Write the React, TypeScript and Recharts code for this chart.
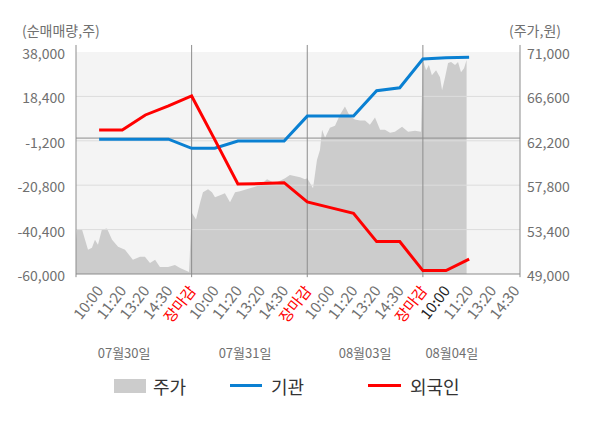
import React from "react";
import {
  ComposedChart,
  Area,
  Line,
  XAxis,
  YAxis,
  CartesianGrid,
  ReferenceLine,
} from "recharts";

const FONT = '"Noto Sans CJK KR", "Noto Sans", sans-serif';

// x축 눈금 라벨 (눈금 1칸 = 1)
const timeTicks = [
  "10:00", "11:20", "13:20", "14:30", "장마감",
  "10:00", "11:20", "13:20", "14:30", "장마감",
  "10:00", "11:20", "13:20", "14:30", "장마감",
  "10:00", "11:20", "13:20", "14:30",
];
const dates = ["07월30일", "07월31일", "08월03일", "08월04일"];

// 순매매량 (눈금 1 ~ 17)
const institution = [
  -500, -500, -500, -500, -4500, -4500, -1300, -1300, -1300,
  9700, 9700, 9700, 20900, 22200, 34900, 35500, 35700,
];
const foreign = [
  3600, 3600, 10200, 14200, 18600, -700, -20300, -20100, -19700,
  -28200, -30700, -33200, -45700, -45700, -58500, -58500, -53400,
];

// 주가 (시점, 가격)
const priceAt = [
  0, 0.04, 0.26, 0.52, 0.69, 0.82, 0.95, 1.12, 1.34, 1.56, 1.82, 2.12, 2.46,
  2.77, 2.98, 3.2, 3.42, 3.63, 3.98, 4.28, 4.5, 4.89,
  5, 5.19, 5.36, 5.49, 5.71, 5.88, 6.01, 6.23, 6.44, 6.66, 6.88, 7.09, 7.52,
  7.96, 8.26, 8.61, 9.04, 9.25, 9.69, 9.9,
  10, 10.25, 10.42, 10.55, 10.64, 10.77, 10.98, 11.2, 11.42, 11.63, 11.85,
  12.06, 12.28, 12.5, 12.71, 12.93, 13.15, 13.36, 13.58, 13.79, 14.1, 14.36,
  14.66, 14.92,
  15, 15.14, 15.26, 15.39, 15.57, 15.74, 15.83, 15.96, 16.09, 16.22, 16.39,
  16.52, 16.65, 16.78, 16.89,
];
const price = [
  52400, 53400, 53400, 51400, 51600, 52400, 51900, 53400, 53500, 52400, 51700,
  51400, 50400, 50700, 50700, 50100, 50400, 49700, 49700, 49900, 49600, 49200,
  55100, 54400, 56000, 57100, 57400, 57100, 56600, 56800, 57000, 56100, 57100,
  57200, 57500, 57800, 58400, 58000, 58500, 58800, 58600, 58400,
  58500, 57500, 60300, 61300, 63300, 62500, 63500, 63700, 64800, 65600, 64600,
  64300, 64200, 64200, 63800, 64500, 63300, 63300, 63000, 63100, 63600, 63100,
  63200, 63100,
  70200, 69200, 69700, 68700, 69200, 68500, 67200, 68500, 69900, 70000, 69700,
  70000, 69000, 69400, 70200,
];

const leftTicks = [-60000, -40400, -20800, -1200, 18400, 38000];
const rightTicks = [49000, 53400, 57800, 62200, 66600, 71000];

const dayBreaks = [0, 5, 10, 15, 19.2];
const DATE_AT = [2.08, 7.31, 12.5, 16.25];
const X_MAX = 19.2;

const flowData = institution.map((v, i) => ({ x: i + 1, inst: v, frgn: foreign[i] }));
const priceData = priceAt.map((x, i) => ({ x, price: price[i] }));

const fmt = (v: number) => v.toLocaleString("en-US");

const TimeTick = (props: any) => {
  const { x, y, payload } = props;
  const label = timeTicks[payload.value - 1];
  let color = "#707070";
  if (label === "장마감") color = "#ff0000";
  else if (payload.value === 16) color = "#222222";
  return (
    <g transform={`translate(${x + 5},${y + 17})`}>
      <text
        textAnchor="end"
        transform="rotate(-52)"
        fill={color}
        fontSize={15}
        fontFamily={FONT}
      >
        {label}
      </text>
    </g>
  );
};

const DateTick = (props: any) => {
  const { x, y, payload } = props;
  const i = DATE_AT.indexOf(payload.value);
  return (
    <text x={x} y={y + 18} textAnchor="middle" fill="#707070" fontSize={13} fontFamily={FONT}>
      {dates[i]}
    </text>
  );
};

const YTick = (props: any) => {
  const { x, y, payload, textAnchor } = props;
  return (
    <text x={x} y={y + 7} textAnchor={textAnchor} fill="#707070" fontSize={14} fontFamily={FONT}>
      {fmt(payload.value)}
    </text>
  );
};

export default function App() {
  return (
    <div style={{ position: "absolute", left: 0, top: 0, width: 600, height: 428, background: "#fff", fontFamily: FONT }}>
      <div style={{ position: "absolute", left: 22, top: 22, fontSize: 14, lineHeight: "16px", color: "#707070" }}>
        (순매매량,주)
      </div>
      <div style={{ position: "absolute", left: 509, top: 22, fontSize: 14, lineHeight: "16px", color: "#707070" }}>
        (주가,원)
      </div>
      <ComposedChart width={600} height={428} margin={{ top: 52, right: 0, bottom: 58, left: 0 }}>
        <CartesianGrid horizontal={false} vertical={false} fill="#f4f4f4" yAxisId="left" />
        <XAxis
          type="number"
          dataKey="x"
          domain={[0, X_MAX]}
          allowDataOverflow
          ticks={timeTicks.map((_, i) => i + 1)}
          interval={0}
          height={66}
          tickSize={0}
          tickMargin={0}
          tickLine={false}
          axisLine={{ stroke: "#8c8c8c" }}
          tick={<TimeTick />}
        />
        <XAxis
          xAxisId="date"
          type="number"
          dataKey="x"
          domain={[0, X_MAX]}
          allowDataOverflow
          ticks={DATE_AT}
          interval={0}
          height={30}
          tickSize={0}
          tickMargin={0}
          tickLine={false}
          axisLine={false}
          tick={<DateTick />}
        />
        <YAxis
          yAxisId="left"
          orientation="left"
          width={76}
          domain={[-60000, 38000]}
          ticks={leftTicks}
          interval={0}
          tickSize={0}
          tickMargin={11}
          tickLine={false}
          axisLine={false}
          tick={<YTick />}
        />
        <YAxis
          yAxisId="right"
          orientation="right"
          width={80}
          domain={[49000, 71000]}
          ticks={rightTicks}
          interval={0}
          tickSize={0}
          tickMargin={7}
          tickLine={false}
          axisLine={false}
          tick={<YTick />}
        />
        <Area
          yAxisId="right"
          data={priceData}
          dataKey="price"
          type="linear"
          fill="#cccccc"
          fillOpacity={1}
          stroke="none"
          isAnimationActive={false}
        />
        {leftTicks.slice(1, -1).map((t) => (
          <ReferenceLine key={t} yAxisId="left" y={t} stroke="#dcdcdc" />
        ))}
        <ReferenceLine yAxisId="left" y={0} stroke="#8c8c8c" />
        {dayBreaks.map((b) => (
          <ReferenceLine
            key={b}
            yAxisId="left"
            ifOverflow="visible"
            segment={[{ x: b, y: 41100 }, { x: b, y: -61400 }]}
            stroke="#8c8c8c"
          />
        ))}
        <Line
          yAxisId="left"
          data={flowData}
          dataKey="inst"
          type="linear"
          stroke="#0a80d2"
          strokeWidth={3}
          dot={false}
          isAnimationActive={false}
        />
        <Line
          yAxisId="left"
          data={flowData}
          dataKey="frgn"
          type="linear"
          stroke="#ff0000"
          strokeWidth={3}
          dot={false}
          isAnimationActive={false}
        />
      </ComposedChart>
      <div style={{ position: "absolute", top: 377, left: 0, width: 600, height: 18, fontSize: 18, lineHeight: "18px", color: "#333" }}>
        <div style={{ position: "absolute", left: 114, top: 2, width: 32, height: 14, background: "#cccccc" }} />
        <div style={{ position: "absolute", left: 153, top: 0 }}>주가</div>
        <div style={{ position: "absolute", left: 230, top: 7, width: 32, height: 3, background: "#0a80d2" }} />
        <div style={{ position: "absolute", left: 271, top: 0 }}>기관</div>
        <div style={{ position: "absolute", left: 368, top: 7, width: 33, height: 3, background: "#ff0000" }} />
        <div style={{ position: "absolute", left: 410, top: 0 }}>외국인</div>
      </div>
    </div>
  );
}
